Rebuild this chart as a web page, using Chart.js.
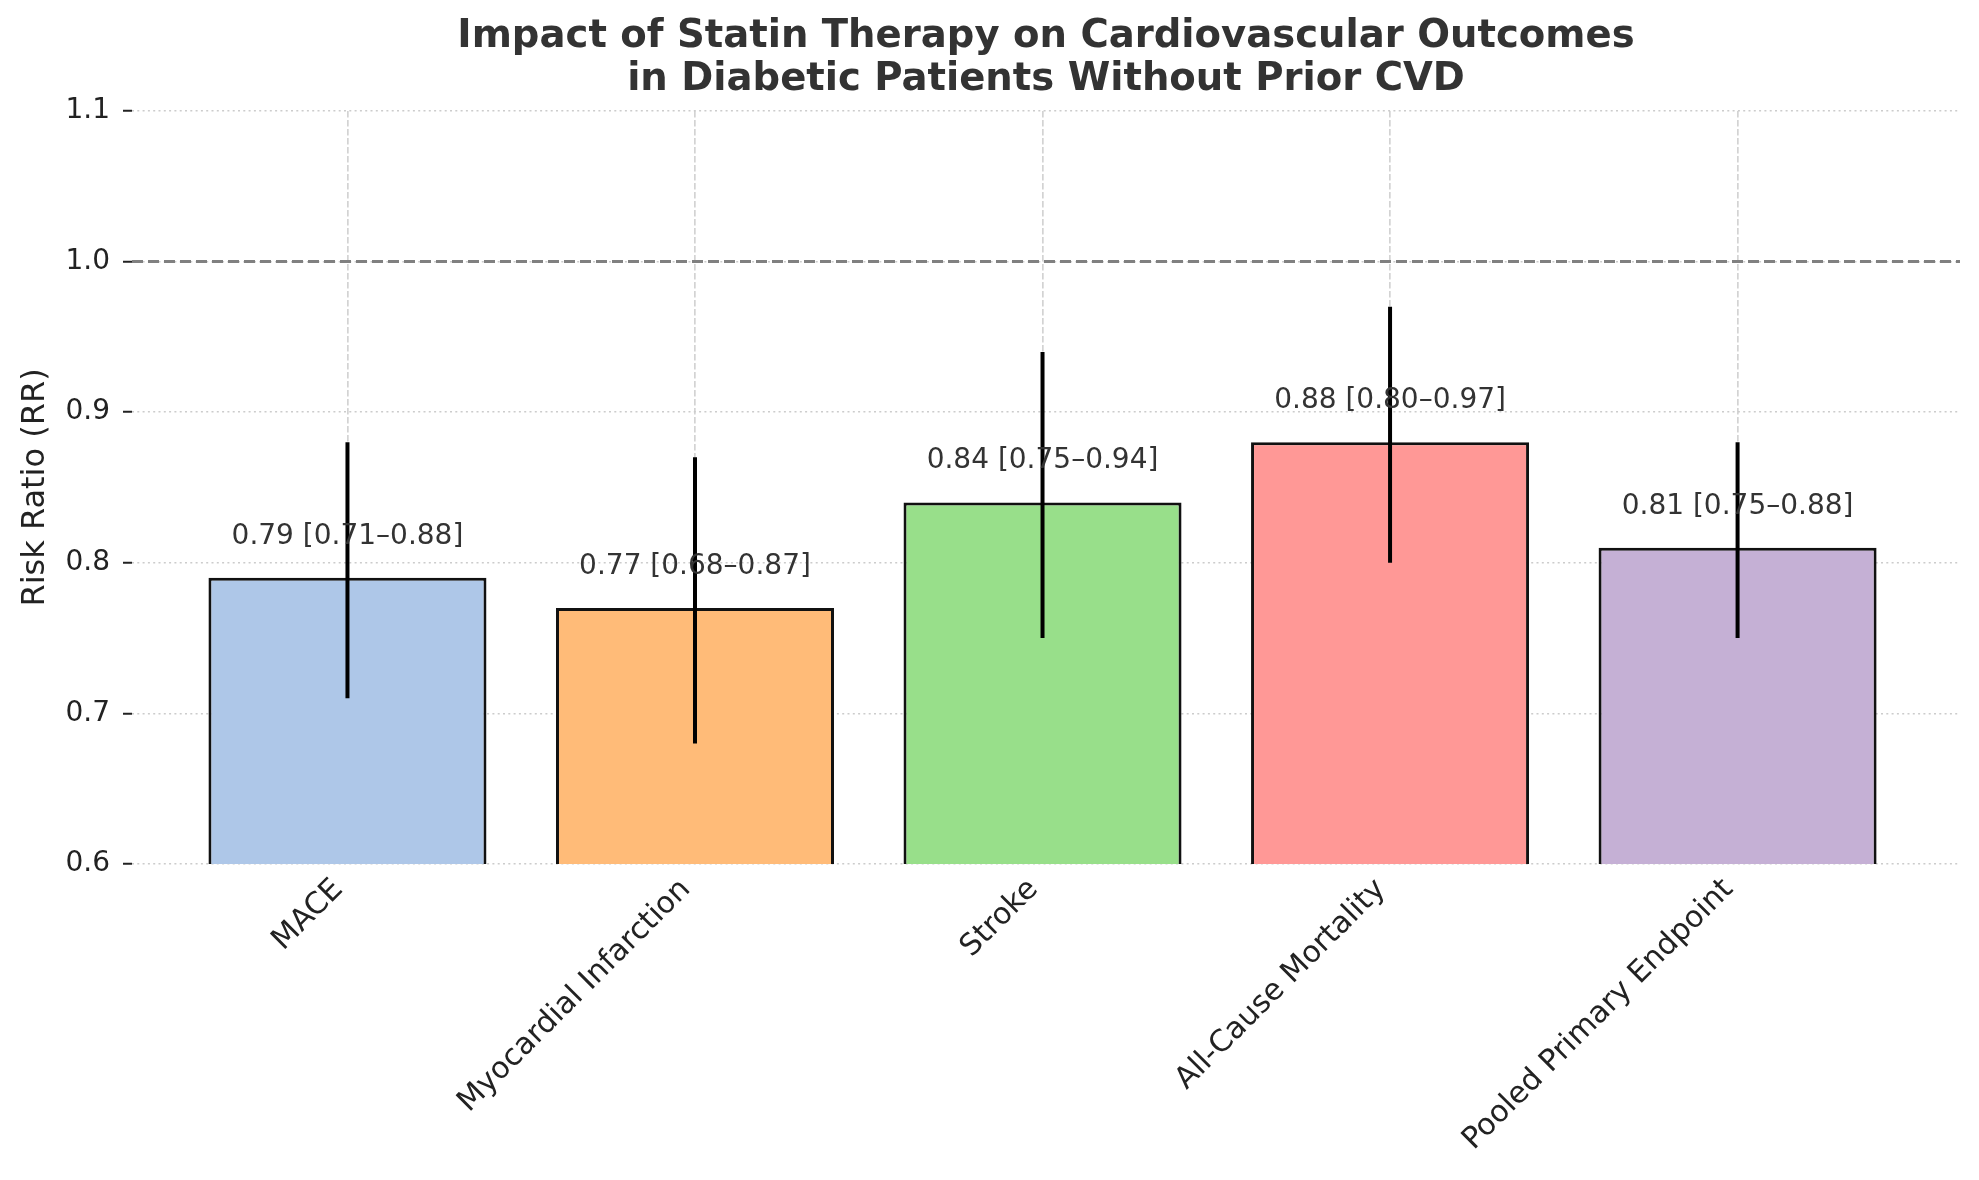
<!DOCTYPE html>
<html>
<head>
<meta charset="utf-8">
<script src="https://cdn.jsdelivr.net/npm/chart.js@4"></script>
<style>
  html, body { margin: 0; padding: 0; background: #fff; }
  #wrap { width: 1979px; height: 1180px; }
</style>
</head>
<body>
<div id="wrap"><canvas id="rrChart"></canvas></div>
<script>
const categories = ['MACE', 'Myocardial Infarction', 'Stroke', 'All-Cause Mortality', 'Pooled Primary Endpoint']
const riskRatio = [0.79, 0.77, 0.84, 0.88, 0.81]
const ciLow = [0.71, 0.68, 0.75, 0.80, 0.75]
const ciHigh = [0.88, 0.87, 0.94, 0.97, 0.88]
const barColors = ['#aec7e8', '#ffbb78', '#98df8a', '#ff9896', '#c5b0d5']
const yTicks = [0.6, 0.7, 0.8, 0.9, 1.0, 1.1]
const refLine = 1.0

const FONT = 'DejaVu Sans'

// error bars, reference line and value labels drawn on top of grid
const overlayPlugin = {
    id: 'overlay',
    afterDraw(chart) {
        const ctx = chart.ctx
        const x = chart.scales.x
        const y = chart.scales.y
        const area = chart.chartArea

        // reference line at RR = 1
        ctx.save()
        ctx.strokeStyle = '#808080'
        ctx.lineWidth = 3
        ctx.setLineDash([11, 5])
        const yr = y.getPixelForValue(refLine)
        ctx.beginPath()
        ctx.moveTo(area.left, yr)
        ctx.lineTo(area.right, yr)
        ctx.stroke()
        ctx.restore()

        // error bars
        ctx.save()
        ctx.strokeStyle = '#000'
        ctx.lineWidth = 4
        categories.forEach(function(c, i) {
            const px = x.getPixelForValue(i)
            ctx.beginPath()
            ctx.moveTo(px, y.getPixelForValue(ciLow[i]))
            ctx.lineTo(px, y.getPixelForValue(ciHigh[i]))
            ctx.stroke()
        })
        ctx.restore()

        // value labels
        ctx.save()
        ctx.fillStyle = '#333'
        ctx.font = '28px "' + FONT + '"'
        ctx.textAlign = 'center'
        ctx.textBaseline = 'alphabetic'
        categories.forEach(function(c, i) {
            const txt = riskRatio[i].toFixed(2) + ' [' + ciLow[i].toFixed(2) + '–' + ciHigh[i].toFixed(2) + ']'
            ctx.fillText(txt, x.getPixelForValue(i), y.getPixelForValue(riskRatio[i] + 0.02) - 4)
        })
        ctx.restore()
    }
}

const canvas = document.getElementById('rrChart')
new Chart(canvas, {
    type: 'bar',
    data: {
        datasets: [{
            label: 'Risk Ratio',
            data: riskRatio.map(function(v, i) { return { x: i, y: v } }),
            backgroundColor: barColors,
            borderColor: '#111',
            borderWidth: 3,
            categoryPercentage: 1.0,
            barPercentage: 0.8
        }]
    },
    options: {
        responsive: true,
        maintainAspectRatio: false,
        animation: false,
        layout: { padding: { left: 0, right: 19, top: 0, bottom: 0 } },
        plugins: {
            legend: { display: false },
            tooltip: { enabled: false },
            title: {
                display: true,
                fullSize: false,
                text: ['Impact of Statin Therapy on Cardiovascular Outcomes', 'in Diabetic Patients Without Prior CVD'],
                color: '#333',
                font: { family: FONT, size: 38.6, weight: 'bold', lineHeight: 1.1 },
                padding: { top: 16, bottom: 10 }
            }
        },
        scales: {
            x: {
                type: 'linear',
                offset: false,
                min: -0.62,
                max: 4.64,
                z: 1,
                afterBuildTicks: function(scale) {
                    scale.ticks = categories.map(function(c, i) { return { value: i } })
                },
                afterFit: function(scale) { scale.height = 316 },
                ticks: {
                    autoSkip: false,
                    minRotation: 45,
                    maxRotation: 45,
                    padding: 18,
                    labelOffset: -9,
                    color: '#222',
                    font: { family: FONT, size: 30 },
                    callback: function(v) { return categories[v] }
                },
                grid: {
                    offset: false,
                    color: '#d3d3d3',
                    lineWidth: 1.7,
                    drawTicks: true,
                    tickLength: -10,
                    tickColor: '#222',
                    tickWidth: 2,
                    tickBorderDash: []
                },
                border: { display: false, dash: [6.5, 2.5] }
            },
            y: {
                min: 0.6,
                max: 1.1,
                z: 1,
                afterBuildTicks: function(scale) {
                    scale.ticks = yTicks.map(function(v) { return { value: v } })
                },
                afterFit: function(scale) { scale.width = 132 },
                ticks: {
                    padding: 13,
                    color: '#222',
                    font: { family: FONT, size: 28 },
                    callback: function(v) { return Number(v).toFixed(1) }
                },
                grid: {
                    color: '#cccccc',
                    lineWidth: 1.5,
                    tickLength: 9,
                    tickColor: '#222',
                    tickWidth: 2,
                    tickBorderDash: []
                },
                border: { display: false, dash: [2, 3.3] },
                title: {
                    display: true,
                    text: 'Risk Ratio (RR)',
                    color: '#222',
                    font: { family: FONT, size: 32 },
                    padding: { top: 16, bottom: 0 }
                }
            }
        }
    },
    plugins: [overlayPlugin]
})
</script>
</body>
</html>
